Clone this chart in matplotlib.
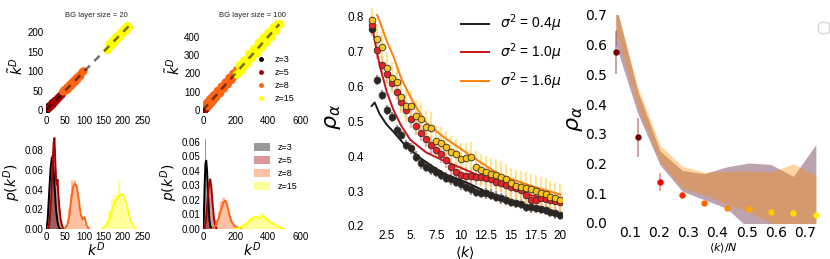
import matplotlib
matplotlib.use('Agg')
import matplotlib.pyplot as plt
from matplotlib.patches import Patch
from matplotlib.lines import Line2D

plt.rcParams['font.family'] = ['Liberation Sans', 'DejaVu Sans']
plt.rcParams['mathtext.fontset'] = 'dejavusans'

# ---- 小图：各 z 的标签和颜色
z_labels = ['z=3', 'z=5', 'z=8', 'z=15']
z_colors = ['black', '#a80000', '#ff6414', '#ffff00']

# ---- BG layer size = 20 散点 (k^D, k~^D)
sc20_x = [
    [1, 3, 4, 6, 8, 9, 11, 13, 15, 17, 20, 23],
    [8, 12, 14, 17, 19, 22, 24, 27, 29, 32, 35, 38, 41],
    [44, 48, 52, 55, 58, 61, 64, 67, 70, 73, 76, 79, 82, 86, 90, 94, 98],
    [160, 164, 168, 172, 176, 180, 184, 188, 192, 196, 200, 204, 208, 212, 216],
]
sc20_y = [
    [2, 1, 5, 4, 7, 10, 9, 12, 14, 18, 19, 22],
    [5, 9, 14, 13, 18, 19, 24, 25, 27, 31, 33, 37, 39],
    [47, 52, 49, 58, 54, 64, 60, 70, 66, 76, 72, 82, 78, 88, 87, 97, 100],
    [153, 168, 163, 177, 170, 185, 179, 193, 187, 200, 196, 209, 203, 216, 212],
]
diag20 = [0, 215]

# ---- BG layer size = 100 散点
sc100_x = [
    [2, 5, 8, 11, 14, 17, 20, 24, 28],
    [8, 14, 20, 26, 32, 38, 44, 50, 56, 62, 68],
    [20, 32, 44, 56, 68, 80, 92, 104, 116, 128, 140, 152, 164, 176, 188, 200, 212],
    [210, 225, 240, 255, 270, 285, 300, 315, 330, 345, 360, 375, 390, 405, 420, 435, 450, 465, 475],
]
sc100_y = [
    [4, 1, 10, 6, 16, 12, 22, 19, 29],
    [14, 6, 27, 19, 40, 30, 52, 42, 64, 55, 74],
    [30, 22, 56, 46, 80, 70, 104, 92, 127, 118, 150, 142, 175, 166, 198, 192, 220],
    [195, 243, 220, 270, 252, 305, 285, 333, 310, 367, 342, 395, 368, 423, 400, 450, 435, 475, 470],
]
diag100 = [0, 470]

# ---- BG 20 直方图 (左边界, 宽度, 高度) 与密度曲线
h20_left = [
    [2, 5, 8, 11, 14, 17, 20, 23, 26, 29, 32],
    [8, 10.5, 13, 15.5, 18, 20.5, 23, 25.5, 28, 30.5, 33, 35.5, 38, 40.5],
    [50, 54, 58, 62, 66, 70, 74, 78, 82, 86, 90, 94, 98, 102, 106],
    [150, 156, 162, 168, 174, 180, 186, 192, 198, 204, 210, 216, 222],
]
h20_width = [3, 2.5, 4, 6]
h20_height = [
    [0.005, 0.02, 0.045, 0.065, 0.075, 0.07, 0.055, 0.03, 0.015, 0.005, 0.002],
    [0.005, 0.015, 0.03, 0.055, 0.075, 0.093, 0.08, 0.06, 0.05, 0.04, 0.03, 0.02, 0.01, 0.004],
    [0.003, 0.01, 0.02, 0.035, 0.05, 0.048, 0.05, 0.04, 0.025, 0.015, 0.012, 0.01, 0.005, 0.002, 0.001],
    [0.002, 0.008, 0.018, 0.03, 0.034, 0.034, 0.05, 0.036, 0.03, 0.02, 0.008, 0.003, 0.001],
]
kde20_x = [
    [0, 4, 8, 12, 15, 18, 22, 26, 30, 34, 38],
    [6, 10, 14, 17, 20, 22, 24, 26, 28, 30, 32, 35, 38, 42, 46],
    [48, 55, 60, 65, 70, 75, 80, 85, 90, 95, 100, 105, 112],
    [145, 155, 165, 172, 180, 188, 195, 200, 205, 212, 220, 228, 235],
]
kde20_y = [
    [0, 0.008, 0.035, 0.062, 0.072, 0.068, 0.045, 0.02, 0.007, 0.001, 0],
    [0, 0.01, 0.035, 0.065, 0.088, 0.092, 0.07, 0.05, 0.045, 0.05, 0.035, 0.02, 0.01, 0.003, 0],
    [0, 0.004, 0.012, 0.028, 0.042, 0.046, 0.043, 0.03, 0.015, 0.01, 0.012, 0.004, 0],
    [0, 0.003, 0.01, 0.02, 0.028, 0.032, 0.035, 0.035, 0.03, 0.02, 0.008, 0.002, 0],
]

# ---- BG 100 直方图与密度曲线
h100_left = [
    [0, 5, 10, 15, 20, 25, 30, 35, 40, 45],
    [10, 18, 26, 34, 42, 50, 58, 66, 74],
    [60, 75, 90, 105, 120, 135, 150, 165, 180, 195, 210],
    [200, 225, 250, 275, 300, 325, 350, 375, 400, 425, 450, 475],
]
h100_width = [5, 8, 15, 25]
h100_height = [
    [0.005, 0.02, 0.045, 0.062, 0.045, 0.03, 0.018, 0.008, 0.003, 0.001],
    [0.003, 0.012, 0.025, 0.035, 0.032, 0.022, 0.012, 0.006, 0.002],
    [0.002, 0.006, 0.012, 0.019, 0.0215, 0.02, 0.012, 0.006, 0.003, 0.002, 0.001],
    [0.001, 0.002, 0.004, 0.007, 0.008, 0.008, 0.011, 0.007, 0.005, 0.003, 0.001, 0.001],
]
kde100_x = [
    [0, 5, 10, 15, 20, 25, 30, 35, 40, 45, 55],
    [10, 20, 30, 38, 45, 52, 60, 68, 76, 85],
    [55, 75, 95, 110, 125, 135, 145, 160, 175, 195, 215, 235],
    [200, 230, 260, 290, 310, 330, 350, 370, 390, 410, 440, 470, 500],
]
kde100_y = [
    [0, 0.008, 0.03, 0.045, 0.047, 0.04, 0.028, 0.015, 0.006, 0.002, 0],
    [0, 0.008, 0.022, 0.032, 0.034, 0.028, 0.016, 0.007, 0.002, 0],
    [0, 0.002, 0.007, 0.013, 0.018, 0.0195, 0.018, 0.011, 0.005, 0.002, 0.001, 0],
    [0, 0.001, 0.003, 0.006, 0.008, 0.0082, 0.0075, 0.009, 0.007, 0.005, 0.003, 0.001, 0],
]

# ---- 中间面板：rho_alpha vs <k>
k_vals = [1.0, 1.5, 2.0, 2.5, 3.0, 3.5, 4.0, 4.5, 5.0, 5.5, 6.0, 6.5, 7.0, 7.5,
          8.0, 8.5, 9.0, 9.5, 10.0, 10.5, 11.0, 11.5, 12.0, 12.5, 13.0, 13.5,
          14.0, 14.5, 15.0, 15.5, 16.0, 16.5, 17.0, 17.5, 18.0, 18.5, 19.0, 19.5, 20.0]
rho_black = [0.762, 0.617, 0.574, 0.532, 0.512, 0.475, 0.460, 0.431, 0.422, 0.398,
             0.379, 0.369, 0.362, 0.355, 0.346, 0.338, 0.333, 0.327, 0.319, 0.312,
             0.305, 0.298, 0.295, 0.293, 0.290, 0.284, 0.279, 0.274, 0.269, 0.266,
             0.264, 0.255, 0.253, 0.251, 0.248, 0.246, 0.240, 0.236, 0.231]
rho_red = [0.775, 0.703, 0.660, 0.634, 0.610, 0.584, 0.555, 0.531, 0.505, 0.486,
           0.467, 0.450, 0.432, 0.418, 0.405, 0.390, 0.370, 0.355, 0.346, 0.344,
           0.343, 0.341, 0.339, 0.336, 0.333, 0.327, 0.322, 0.317, 0.312, 0.308,
           0.303, 0.290, 0.275, 0.274, 0.280, 0.278, 0.275, 0.272, 0.268]
rho_gold = [0.789, 0.733, 0.712, 0.651, 0.624, 0.612, 0.569, 0.543, 0.543, 0.514,
            0.506, 0.484, 0.481, 0.443, 0.438, 0.427, 0.412, 0.405, 0.391, 0.393,
            0.396, 0.369, 0.360, 0.355, 0.350, 0.346, 0.341, 0.333, 0.322, 0.315,
            0.312, 0.308, 0.305, 0.301, 0.295, 0.291, 0.284, 0.279, 0.275]
err_black, err_red, err_gold = 0.015, 0.025, 0.045

th_black_k = [1.0, 1.3, 1.8, 2.5, 3.2, 4.2, 5.0, 6.0, 7.2, 8.5, 10.5, 12.0, 14.0, 16.0, 18.0, 20.0]
th_black = [0.543, 0.553, 0.520, 0.490, 0.469, 0.436, 0.415, 0.392, 0.369, 0.347, 0.325, 0.305, 0.280, 0.258, 0.242, 0.228]
th_red_k = [1.15, 1.5, 1.85, 2.5, 3.2, 4.0, 4.9, 6.5, 8.0, 10.5, 13.5, 17.0, 20.0]
th_red = [0.755, 0.700, 0.655, 0.585, 0.531, 0.485, 0.446, 0.410, 0.390, 0.360, 0.322, 0.288, 0.272]
th_orange_k = [1.55, 2.0, 2.5, 3.2, 4.0, 4.9, 5.7, 6.5, 8.2, 10.5, 12.6, 14.0, 15.0, 17.0, 20.0]
th_orange = [0.803, 0.770, 0.730, 0.684, 0.620, 0.569, 0.530, 0.495, 0.455, 0.410, 0.370, 0.345, 0.335, 0.315, 0.290]
th_labels = [r'$\sigma^2$ = 0.4$\mu$', r'$\sigma^2$ = 1.0$\mu$', r'$\sigma^2$ = 1.6$\mu$']

# ---- 右侧面板：rho_alpha vs <k>/N
kn = [0.051, 0.126, 0.203, 0.279, 0.355, 0.431, 0.508, 0.583, 0.660, 0.737]
rho_n = [0.575, 0.289, 0.137, 0.094, 0.067, 0.052, 0.046, 0.038, 0.033, 0.027]
err_n = [0.072, 0.066, 0.030, 0.010, 0.008, 0.005, 0.004, 0.004, 0.003, 0.003]
pt_colors = ['#6e0000', '#7a0000', '#ee0000', '#ff3000', '#ff6400', '#ff8c00',
             '#ffaa00', '#ffc800', '#ffdc00', '#ffee00']
peach_hi = [0.735, 0.460, 0.262, 0.191, 0.171, 0.174, 0.176, 0.172, 0.199, 0.160]
peach_lo = [0.648, 0.390, 0.205, 0.118, 0.095, 0.064, 0.036, 0.000, -0.020, -0.030]
mauve_hi = [0.735, 0.445, 0.242, 0.177, 0.166, 0.189, 0.202, 0.197, 0.157, 0.264]
mauve_lo = [0.600, 0.370, 0.195, 0.107, 0.078, 0.050, -0.020, -0.050, -0.050, -0.050]

W, H = 830, 259


def rect(l, t, r, b):
    return [l / W, 1 - b / H, (r - l) / W, (b - t) / H]


def clean(ax, size, pad=2):
    for s in ax.spines.values():
        s.set_visible(False)
    ax.tick_params(length=0, labelsize=size, pad=pad)


fig = plt.figure(figsize=(8.3, 2.59), dpi=100)

# ---- 上排散点
ax_tl = fig.add_axes(rect(46, 20, 146, 113))
ax_tm = fig.add_axes(rect(203, 20, 302, 113))
for ax, xs, ys, diag, title, ms in [(ax_tl, sc20_x, sc20_y, diag20, 'BG layer size = 20', 32),
                                    (ax_tm, sc100_x, sc100_y, diag100, 'BG layer size = 100', 40)]:
    for i in range(4):
        ax.scatter(xs[i], ys[i], s=ms, color=z_colors[i], edgecolors='none', label=z_labels[i])
    ax.plot(diag, diag, color='k', ls='--', lw=1.8, alpha=0.55, dashes=(3, 2.5))
    ax.set_title(title, fontsize=5.5, pad=2, color='#222222')
    ax.set_ylabel(r'$\tilde{k}^D$', fontsize=10, labelpad=1)
    clean(ax, 7)
ax_tl.set_xlim(0, 260)
ax_tl.set_ylim(-7.7, 231)
ax_tl.set_xticks([0, 50, 100, 150, 200, 250])
ax_tl.set_yticks([0, 50, 100, 150, 200])
ax_tm.set_xlim(0, 610)
ax_tm.set_ylim(-16.4, 493)
ax_tm.set_xticks([0, 200, 400, 600])
ax_tm.set_yticks([0, 100, 200, 300, 400])
ax_tm.legend(handles=[Line2D([], [], ls='none', marker='o', ms=2.5, color=c, label=l)
                      for c, l in zip(z_colors, z_labels)],
             loc='lower right', frameon=False, fontsize=6.5, labelspacing=0.45,
             handlelength=1.2, handletextpad=0.9, bbox_to_anchor=(1.0, 0.02))

# ---- 下排直方图
ax_bl = fig.add_axes(rect(46, 135, 146, 229))
ax_bm = fig.add_axes(rect(203, 135, 302, 229))
for ax, lefts, widths, heights, kx, ky in [(ax_bl, h20_left, h20_width, h20_height, kde20_x, kde20_y),
                                           (ax_bm, h100_left, h100_width, h100_height, kde100_x, kde100_y)]:
    for i in range(4):
        ax.bar(lefts[i], heights[i], width=widths[i], align='edge', color=z_colors[i],
               alpha=0.4, lw=0)
        ax.plot(kx[i], ky[i], color=z_colors[i], lw=1.4)
    ax.set_xlabel(r'$k^D$', fontsize=10, labelpad=-1)
    ax.set_ylabel(r'$p(k^D)$', fontsize=10, labelpad=1)
    clean(ax, 7)
ax_bl.set_xlim(0, 260)
ax_bl.set_ylim(0, 0.0952)
ax_bl.set_xticks([0, 50, 100, 150, 200, 250])
ax_bl.set_yticks([0, 0.02, 0.04, 0.06, 0.08])
ax_bl.set_yticklabels(['0.00', '0.02', '0.04', '0.06', '0.08'])
ax_bm.set_xlim(0, 610)
ax_bm.set_ylim(0, 0.0646)
ax_bm.set_xticks([0, 200, 400, 600])
ax_bm.set_yticks([0, 0.01, 0.02, 0.03, 0.04, 0.05, 0.06])
ax_bm.set_yticklabels(['0.00', '0.01', '0.02', '0.03', '0.04', '0.05', '0.06'])
ax_bm.legend(handles=[Patch(facecolor=c, alpha=0.4, label=l) for c, l in zip(z_colors, z_labels)],
             loc='upper right', frameon=False, fontsize=6.5, labelspacing=0.45,
             handlelength=1.8, handleheight=0.9, handletextpad=0.9, bbox_to_anchor=(1.04, 1.0))

# ---- 中间面板
ax_m = fig.add_axes(rect(368, 8, 562, 226))
for vals, err, ec in [(rho_black, err_black, '#666666'),
                      (rho_red, err_red, '#f08a8a'),
                      (rho_gold, err_gold, '#ffd966')]:
    ax_m.errorbar(k_vals, vals, yerr=err, fmt='none', ecolor=ec, elinewidth=1.6, alpha=0.7, zorder=1)
th_lines = []
for kk, vv, c in [(th_black_k, th_black, '#1a1a1a'), (th_red_k, th_red, '#c8141c'),
                  (th_orange_k, th_orange, '#ff7f0e')]:
    th_lines.append(ax_m.plot(kk, vv, color=c, lw=1.4, zorder=2)[0])
for vals, fc in [(rho_black, '#262626'), (rho_red, '#e8222a'), (rho_gold, '#f7c31c')]:
    ax_m.plot(k_vals, vals, ls='none', marker='o', ms=4.8, mfc=fc, mec='#3a2a20', mew=0.6, zorder=3)
ax_m.set_xlim(0.63, 20.16)
ax_m.set_ylim(0.2, 0.823)
ax_m.set_xticks([2.5, 5, 7.5, 10, 12.5, 15, 17.5, 20])
ax_m.set_xticklabels(['2.5', '5.', '7.5', '10', '12.5', '15', '17.5', '20'])
ax_m.set_yticks([0.2, 0.3, 0.4, 0.5, 0.6, 0.7, 0.8])
ax_m.set_yticklabels(['0.2', '0.3', '0.4', '0.5', '0.6', '0.7', '0.8'])
clean(ax_m, 8.5, pad=3)
ax_m.set_ylabel(r'$\rho_\alpha$', fontsize=16, labelpad=3)
ax_m.set_xlabel(r'$\langle k\rangle$', fontsize=10, labelpad=1)
ax_m.legend(th_lines, th_labels, loc='upper right', frameon=False, fontsize=10,
            handlelength=2.0, bbox_to_anchor=(1.06, 1.035))

# ---- 右侧面板
ax_r = fig.add_axes(rect(610, 15, 836, 223))
ax_r.fill_between(kn, mauve_lo, mauve_hi, color='#6e3250', alpha=0.45, lw=0)
ax_r.fill_between(kn, peach_lo, peach_hi, color='#ff8c00', alpha=0.37, lw=0)
for x, y, e, c in zip(kn, rho_n, err_n, pt_colors):
    ax_r.errorbar([x], [y], yerr=[e], fmt='none', ecolor=c, elinewidth=1.3, alpha=0.4)
    ax_r.plot([x], [y], ls='none', marker='o', ms=4.6, color=c, mec='none')
ax_r.set_xlim(0.0313, 0.806)
ax_r.set_ylim(0, 0.7)
ax_r.set_xticks([0.1, 0.2, 0.3, 0.4, 0.5, 0.6, 0.7])
ax_r.set_yticks([0.0, 0.1, 0.2, 0.3, 0.4, 0.5, 0.6, 0.7])
ax_r.set_yticklabels(['0.0', '0.1', '0.2', '0.3', '0.4', '0.5', '0.6', '0.7'])
clean(ax_r, 10, pad=2)
for lab in ax_r.get_xticklabels() + ax_r.get_yticklabels():
    lab.set_family('DejaVu Sans')
ax_r.set_ylabel(r'$\rho_\alpha$', fontsize=16, labelpad=0)
ax_r.set_xlabel(r'$\langle k\rangle/N$', fontsize=8, labelpad=1)
ax_r.legend(handles=[], loc='upper right', fontsize=10)

fig.savefig('out.png', dpi=100)
